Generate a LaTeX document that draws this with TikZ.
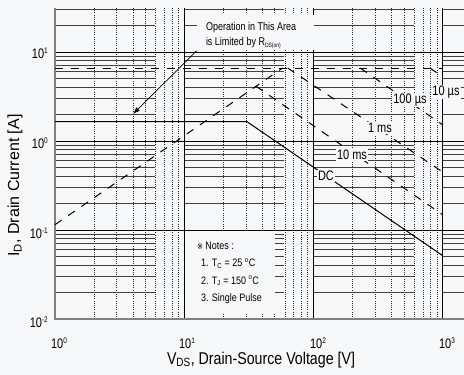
\documentclass[tikz,border=0pt]{standalone}
\usepackage{fontspec}
\setmainfont{Liberation Sans}
\newfontfamily\marksym{DejaVu Sans}
\usetikzlibrary{positioning,arrows.meta}
\definecolor{sheet}{RGB}{247,248,250}
\definecolor{axisgray}{RGB}{128,128,128}

\newcommand{\decade}[1]{10\raisebox{4pt}{\fontsize{6.5}{6.5}\selectfont #1}}

\begin{document}
\begin{tikzpicture}[
    gridminor/.style={black!75,line width=0.8pt,dash pattern=on 100pt off 29.3pt},
    gridmajor/.style={black,line width=0.9pt},
    griddot/.style={black!85,line width=0.45pt,dash pattern=on 0.8pt off 1.4pt},
    limitline/.style={black,line width=1pt,dash pattern=on 8pt off 8pt},
    tall/.style={yscale=1.25},
    curvelabel/.style={tall,fill=sheet,inner sep=1pt,font=\fontsize{11}{11}\selectfont},
    ticklabel/.style={tall,font=\fontsize{11}{11}\selectfont,inner sep=0pt},
    blank/.style={fill=sheet,inner sep=0pt}]
  \useasboundingbox[fill=sheet] (0,0) rectangle (464pt,375pt);

  \begin{scope}[shift={(55pt,56pt)},x=129.3pt,y=89pt]
    \foreach \d in {0,1,2}
      \foreach \m in {2,...,9}
        \draw[griddot] ({\d+log10(\m)},0) -- ({\d+log10(\m)},3.49);
    \foreach \d in {0,1,2}
      \foreach \m in {2,...,9}
        \draw[gridminor] (0,{\d+log10(\m)}) -- (3.163,{\d+log10(\m)});
    \foreach \m in {2,3}
      \draw[gridminor] (0,{3+log10(\m)}) -- (3.163,{3+log10(\m)});
    \foreach \v in {1,2,3} {
      \draw[gridmajor] (\v,0) -- (\v,3.49);
      \draw[gridmajor] (0,\v) -- (3.163,\v);
    }
    \draw[axisgray,line width=1.6pt] (0,3.49) -- (0,0) -- (3.163,0);

    \draw[limitline] (0,2.82) -- (3,2.82) -- (3,1.17);
    \draw[limitline] (0,1.06) -- (1.76,2.82);
    \draw[limitline] (2.9,2.82) -- (3,2.72);
    \draw[limitline] (2.36,2.82) -- (3,2.18);
    \draw[limitline] (1.8,2.82) -- (3,1.65);
    \draw[limitline] (1.555,2.615) -- (3,1.17);
    \draw[black,line width=1pt] (0,2.217) -- (1.485,2.217) -- (3,0.71);
  \end{scope}

  \node[curvelabel] (tenus) at (446pt,283pt) {10 µs};
  \node[curvelabel] (hundredus) at (410pt,275pt) {100 µs};
  \node[curvelabel] (onems) at (380pt,247pt) {1 ms};
  \node[curvelabel] (tenms) at (352pt,220pt) {10 ms};
  \node[curvelabel] (dclabel) at (326pt,199pt) {DC};

  \node[blank,minimum width=117pt,minimum height=35.5pt] (limitbox) at (255.5pt,342.25pt) {};
  \node[tall,anchor=west,align=left,inner sep=0pt,font=\fontsize{9}{12}\selectfont]
       (limittext) at ([xshift=9pt,yshift=-2.75pt]limitbox.west)
       {Operation in This Area\\is Limited by R\textsubscript{\fontsize{5}{5}\selectfont DS(on)}};
  \coordinate (rdspoint) at (133pt,261pt);
  \draw[-{Latex[length=7pt,width=5pt]},line width=0.7pt] (limitbox.south west) -- (rdspoint);

  \node[blank,minimum width=90pt,minimum height=82pt] (notes) at (230pt,102pt) {};
  \node[yscale=1.2,anchor=west,align=left,inner sep=0pt,font=\fontsize{9}{14.6}\selectfont]
       (notetext) at ([xshift=12pt]notes.west)
       {{\marksym\fontsize{7}{7}\selectfont ※} Notes :\\
        \hspace*{4pt}1. T\textsubscript{C} = 25 \textsuperscript{o}C\\
        \hspace*{4pt}2. T\textsubscript{J} = 150 \textsuperscript{o}C\\
        \hspace*{4pt}3. Single Pulse};

  \node[ticklabel] (xzero) at (59pt,32pt) {\decade{0}};
  \node[ticklabel] (xone) at (187pt,32pt) {\decade{1}};
  \node[ticklabel] (xtwo) at (318pt,32pt) {\decade{2}};
  \node[ticklabel] (xthree) at (447pt,32pt) {\decade{3}};
  \node[ticklabel,anchor=east] (yone) at (48pt,322pt) {\decade{1}};
  \node[ticklabel,anchor=east] (yzero) at (48pt,232pt) {\decade{0}};
  \node[ticklabel,anchor=east] (yminone) at (48pt,142pt) {\decade{-1}};
  \node[ticklabel,anchor=east] (ymintwo) at (48pt,53pt) {\decade{-2}};

  \node[yscale=1.2,font=\fontsize{14.2}{14.2}\selectfont] (xtitle) at (261pt,15pt)
       {V\textsubscript{DS}, Drain-Source Voltage [V]};
  \node[font=\fontsize{16}{16}\selectfont,rotate=90] (ytitle) at (15pt,189.5pt)
       {I\textsubscript{D}, Drain Current [A]};
\end{tikzpicture}
\end{document}
